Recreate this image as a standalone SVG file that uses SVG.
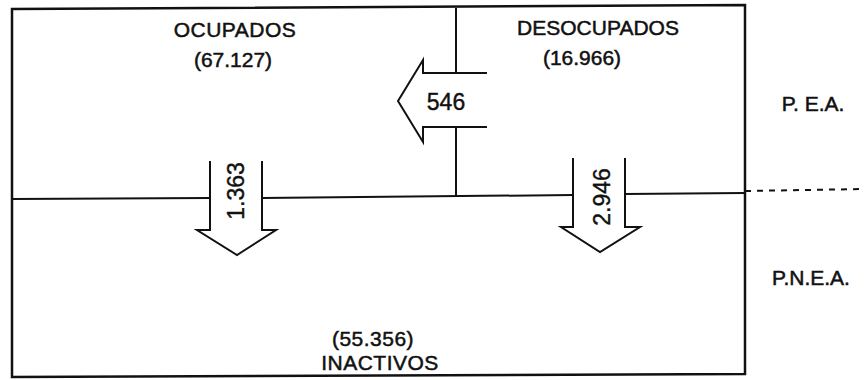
<svg xmlns="http://www.w3.org/2000/svg" width="864" height="380" viewBox="0 0 864 380">
<style>
.ln{fill:none;stroke:#111;stroke-width:2;stroke-linejoin:miter}
.bx{fill:none;stroke:#111;stroke-width:2.5}
.t{font-family:"Liberation Sans",Arial,sans-serif;font-size:21px;fill:#111;stroke:#111;stroke-width:0.5;text-anchor:middle}
.n{font-family:"Liberation Sans",Arial,sans-serif;font-size:23px;fill:#111;stroke:#111;stroke-width:0.4;text-anchor:middle}
</style>
<rect width="864" height="380" fill="#fff"/>
<g id="connectors">
<polygon class="bx" points="12,9 745,5 745,374 12,377"/>
<polyline class="ln" points="12,199 210,198"/>
<polyline class="ln" points="262,198 573,195"/>
<polyline class="ln" points="625,194 745,193"/>
<line class="ln" x1="745" y1="191" x2="864" y2="189" stroke-dasharray="6,6"/>
<line class="ln" x1="456" y1="8" x2="456" y2="73"/>
<line class="ln" x1="456" y1="127" x2="456" y2="196"/>
<g id="arrow-546">
<polyline class="ln" points="487,73 423,73 423,60 398,101 423,142 423,127 487,127"/>
<text class="n" x="446" y="110">546</text>
</g>
<g id="arrow-1363">
<polyline class="ln" points="210,161 210,230 197,230 237,255 276,230 262,230 262,161"/>
<text class="n" transform="translate(244,191) rotate(-90)">1.363</text>
</g>
<g id="arrow-2946">
<polyline class="ln" points="573,158 573,227 561,227 600,252 640,227 625,227 625,158"/>
<text class="n" transform="translate(610,197) rotate(-90)">2.946</text>
</g>
</g>
<g id="ocupados">
<text class="t" x="235" y="37" letter-spacing="0.5">OCUPADOS</text>
<text class="t" x="233" y="67">(67.127)</text>
</g>
<g id="desocupados">
<text class="t" x="598" y="35">DESOCUPADOS</text>
<text class="t" x="582" y="65">(16.966)</text>
</g>
<g id="inactivos">
<text class="t" x="373" y="346" letter-spacing="0.5">(55.356)</text>
<text class="t" x="380" y="370" letter-spacing="0.5">INACTIVOS</text>
</g>
<g id="pea">
<text class="t" x="813" y="111" font-size="19">P. E.A.</text>
</g>
<g id="pnea">
<text class="t" x="811" y="285" font-size="19">P.N.E.A.</text>
</g>
</svg>
